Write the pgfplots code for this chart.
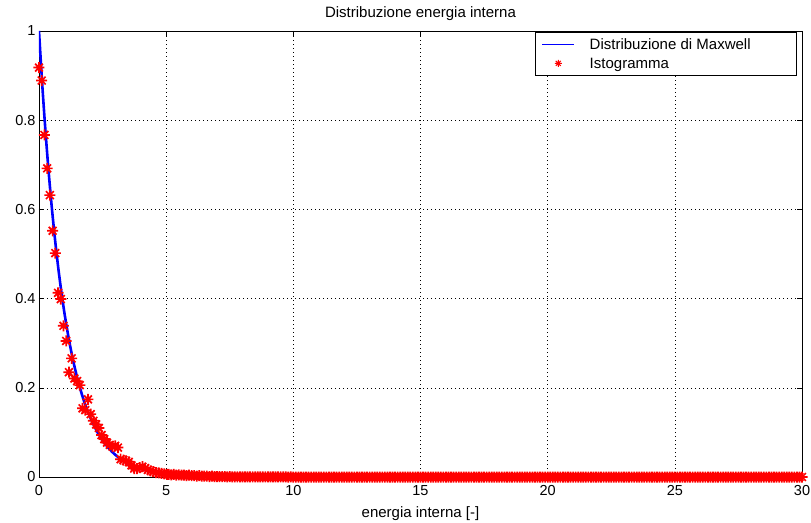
\documentclass[border=0pt]{standalone}
\usepackage{pgfplots}
\pgfplotsset{compat=1.18}
\usepackage{fontspec}
\setmainfont{Liberation Sans}
\pgfdeclareplotmark{mast}{%
  \pgfpathmoveto{\pgfqpoint{0pt}{\pgfplotmarksize}}\pgfpathlineto{\pgfqpoint{0pt}{-\pgfplotmarksize}}%
  \pgfpathmoveto{\pgfqpoint{\pgfplotmarksize}{0pt}}\pgfpathlineto{\pgfqpoint{-\pgfplotmarksize}{0pt}}%
  \pgfpathmoveto{\pgfpoint{.707\pgfplotmarksize}{.707\pgfplotmarksize}}\pgfpathlineto{\pgfpoint{-.707\pgfplotmarksize}{-.707\pgfplotmarksize}}%
  \pgfpathmoveto{\pgfpoint{-.707\pgfplotmarksize}{.707\pgfplotmarksize}}\pgfpathlineto{\pgfpoint{.707\pgfplotmarksize}{-.707\pgfplotmarksize}}%
  \pgfusepathqstroke}
\begin{document}
\begin{tikzpicture}
\begin{axis}[
  name=ax,
  scale only axis,
  width=763pt, height=446pt,
  xmin=0, xmax=30, ymin=0, ymax=1,
  xtick={0,5,10,15,20,25,30},
  ytick={0,0.2,0.4,0.6,0.8,1},
  yticklabels={0,0.2,0.4,0.6,0.8,1},
  /pgf/number format/assume math mode=true,
  font=\fontsize{15}{18}\selectfont,
  tick label style={font=\fontsize{14.5}{17}\selectfont},
  xticklabel style={yshift=-5pt},
  axis line style={black, line width=0.8pt},
  tick style={black, line width=0.6pt},
  major tick length=5pt,
  tick align=inside,
  grid=major,
  grid style={black, line width=0.6pt, dash pattern=on 1pt off 3pt},
  title={Distribuzione energia interna},
  title style={yshift=1pt},
  xlabel={energia interna [-]},
  xlabel style={yshift=-4pt},
  legend style={at={(rel axis cs:0.9935,0.998)}, anchor=north east, draw=black, line width=0.6pt,
    fill=white, font=\fontsize{15}{18}\selectfont, inner xsep=7pt, inner ysep=5pt,
    nodes={inner sep=0pt}, column sep=15pt, row sep=5pt},
  legend cell align=left,
]
\addplot[blue, line width=2.6pt, smooth,
  legend image code/.code={\draw[draw=blue, line width=0.9pt] (0pt,0pt) -- (32pt,0pt);}]
coordinates {
(0,1.0000)(0.125,0.8825)(0.25,0.7788)(0.375,0.6873)(0.5,0.6065)(0.625,0.5353)
(0.75,0.4724)(0.875,0.4169)(1.0,0.3679)(1.125,0.3247)(1.25,0.2865)(1.375,0.2528)
(1.5,0.2231)(1.625,0.1969)(1.75,0.1738)(1.875,0.1534)(2.0,0.1353)(2.25,0.1054)
(2.5,0.0821)(2.75,0.0639)(3.0,0.0498)(3.25,0.0388)(3.5,0.0302)(3.75,0.0235)
(4.0,0.0183)(4.5,0.0111)(5.0,0.0067)(5.5,0.0041)(6,0.0025)(7,0.0009)(8,0.0003)
(10,0.00005)(30,0.0)
};
\addlegendentry{\makebox[200pt][l]{\strut Distribuzione di Maxwell}}
\addplot[only marks, red, mark=mast, mark size=5.5pt, line width=1.7pt,
  legend image code/.code={\draw[draw=red, line width=1pt] plot[mark=mast, mark size=3.5pt] coordinates {(16pt,0pt)};}]
coordinates {
(0.000,0.918)(0.107,0.889)(0.214,0.767)(0.321,0.692)(0.428,0.632)(0.535,0.552)
(0.642,0.502)(0.749,0.413)(0.856,0.399)(0.963,0.339)(1.070,0.305)(1.177,0.235)
(1.284,0.266)(1.391,0.221)(1.498,0.215)(1.605,0.206)(1.712,0.154)(1.819,0.150)
(1.926,0.174)(2.033,0.141)(2.140,0.126)(2.247,0.118)(2.354,0.110)(2.461,0.094)
(2.568,0.085)(2.675,0.077)(2.782,0.072)(2.889,0.068)(2.996,0.070)(3.103,0.066)
(3.210,0.040)(3.317,0.038)(3.424,0.036)(3.531,0.034)(3.638,0.026)(3.745,0.019)
(3.852,0.019)(3.959,0.021)(4.066,0.023)(4.173,0.020)(4.280,0.016)(4.387,0.014)
(4.494,0.012)(4.601,0.010)(4.708,0.009)(4.815,0.008)(4.922,0.007)(5.029,0.006)
(5.1,0.006)(5.2,0.005)(5.3,0.006)(5.4,0.004)(5.5,0.005)(5.6,0.004)(5.7,0.004)(5.8,0.003)(5.9,0.004)(6.0,0.003)
(6.1,0.003)(6.2,0.002)(6.3,0.003)(6.4,0.002)(6.5,0.002)(6.6,0.002)(6.7,0.001)(6.8,0.002)(6.9,0.001)(7.0,0.001)
(7.1,0.001)(7.2,0.001)(7.3,0.001)(7.4,0.0005)(7.5,0.001)(7.6,0.0005)(7.7,0.0005)(7.8,0.0005)(7.9,0.0005)(8.0,0.0005)
(8.1,0.0003)(8.2,0.0003)(8.3,0.0003)(8.4,0.0002)(8.5,0.0003)(8.6,0.0002)(8.7,0.0002)(8.8,0.0002)(8.9,0.0001)(9.0,0.0002)
(9.1,0.0001)(9.2,0.0001)(9.3,0.0001)(9.4,0.0001)(9.5,0.0001)(9.6,0.0001)(9.7,0.0001)(9.8,0)(9.9,0.0001)(10.0,0)
(10.1,0)(10.2,0)(10.3,0)(10.4,0)(10.5,0)(10.6,0)(10.7,0)(10.8,0)(10.9,0)(11.0,0)
(11.1,0)(11.2,0)(11.3,0)(11.4,0)(11.5,0)(11.6,0)(11.7,0)(11.8,0)(11.9,0)(12.0,0)
(12.1,0)(12.2,0)(12.3,0)(12.4,0)(12.5,0)(12.6,0)(12.7,0)(12.8,0)(12.9,0)(13.0,0)
(13.1,0)(13.2,0)(13.3,0)(13.4,0)(13.5,0)(13.6,0)(13.7,0)(13.8,0)(13.9,0)(14.0,0)
(14.1,0)(14.2,0)(14.3,0)(14.4,0)(14.5,0)(14.6,0)(14.7,0)(14.8,0)(14.9,0)(15.0,0)
(15.1,0)(15.2,0)(15.3,0)(15.4,0)(15.5,0)(15.6,0)(15.7,0)(15.8,0)(15.9,0)(16.0,0)
(16.1,0)(16.2,0)(16.3,0)(16.4,0)(16.5,0)(16.6,0)(16.7,0)(16.8,0)(16.9,0)(17.0,0)
(17.1,0)(17.2,0)(17.3,0)(17.4,0)(17.5,0)(17.6,0)(17.7,0)(17.8,0)(17.9,0)(18.0,0)
(18.1,0)(18.2,0)(18.3,0)(18.4,0)(18.5,0)(18.6,0)(18.7,0)(18.8,0)(18.9,0)(19.0,0)
(19.1,0)(19.2,0)(19.3,0)(19.4,0)(19.5,0)(19.6,0)(19.7,0)(19.8,0)(19.9,0)(20.0,0)
(20.1,0)(20.2,0)(20.3,0)(20.4,0)(20.5,0)(20.6,0)(20.7,0)(20.8,0)(20.9,0)(21.0,0)
(21.1,0)(21.2,0)(21.3,0)(21.4,0)(21.5,0)(21.6,0)(21.7,0)(21.8,0)(21.9,0)(22.0,0)
(22.1,0)(22.2,0)(22.3,0)(22.4,0)(22.5,0)(22.6,0)(22.7,0)(22.8,0)(22.9,0)(23.0,0)
(23.1,0)(23.2,0)(23.3,0)(23.4,0)(23.5,0)(23.6,0)(23.7,0)(23.8,0)(23.9,0)(24.0,0)
(24.1,0)(24.2,0)(24.3,0)(24.4,0)(24.5,0)(24.6,0)(24.7,0)(24.8,0)(24.9,0)(25.0,0)
(25.1,0)(25.2,0)(25.3,0)(25.4,0)(25.5,0)(25.6,0)(25.7,0)(25.8,0)(25.9,0)(26.0,0)
(26.1,0)(26.2,0)(26.3,0)(26.4,0)(26.5,0)(26.6,0)(26.7,0)(26.8,0)(26.9,0)(27.0,0)
(27.1,0)(27.2,0)(27.3,0)(27.4,0)(27.5,0)(27.6,0)(27.7,0)(27.8,0)(27.9,0)(28.0,0)
(28.1,0)(28.2,0)(28.3,0)(28.4,0)(28.5,0)(28.6,0)(28.7,0)(28.8,0)(28.9,0)(29.0,0)
(29.1,0)(29.2,0)(29.3,0)(29.4,0)(29.5,0)(29.6,0)(29.7,0)(29.8,0)(29.9,0)(30.0,0)
};
\addlegendentry{\makebox[200pt][l]{\strut Istogramma}}
\end{axis}
\pgfresetboundingbox
\path[use as bounding box] ([shift={(-39pt,-45pt)}]ax.south west) rectangle ([shift={(9pt,31pt)}]ax.north east);
\end{tikzpicture}
\end{document}
